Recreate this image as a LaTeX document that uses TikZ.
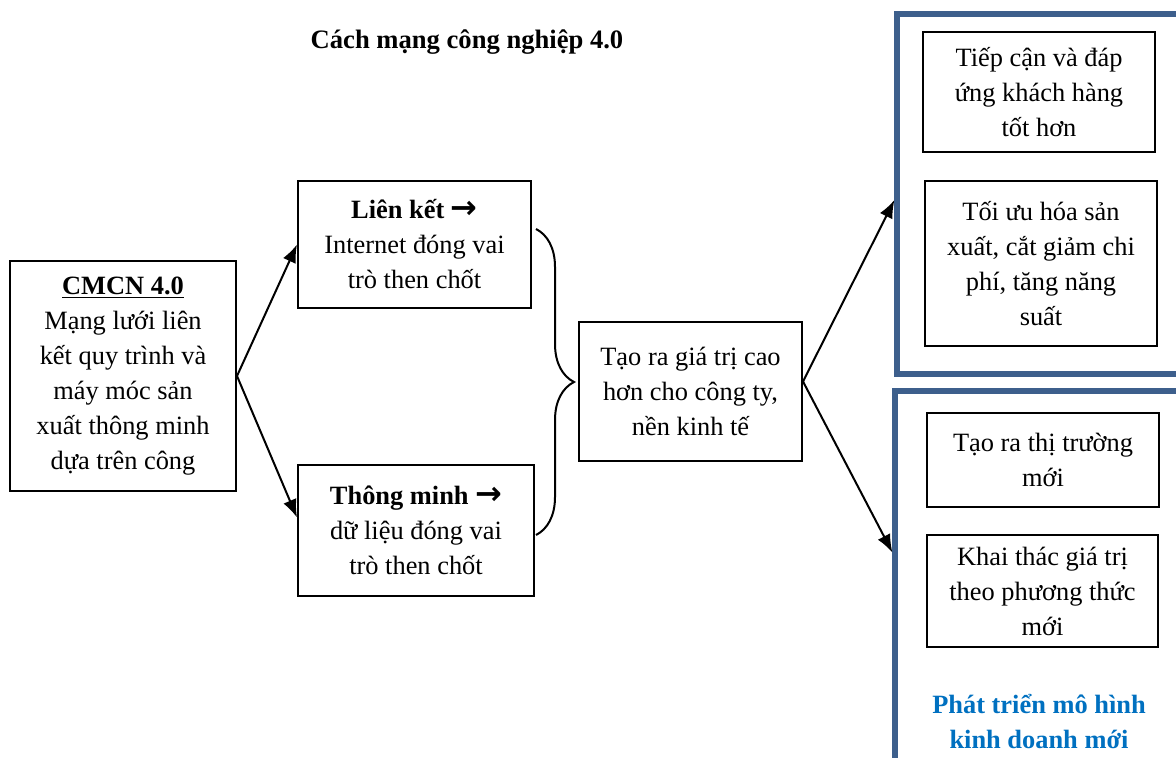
\documentclass[tikz,border=0pt]{standalone}
\usepackage{fontspec}
\setmainfont{Liberation Serif}
\newfontfamily\arrowfont{DejaVu Sans}
\usepackage{xcolor}
\usetikzlibrary{arrows.meta}
\usetikzlibrary{decorations.pathreplacing}
\definecolor{framecol}{HTML}{3D5F8C}
\definecolor{titleblue}{HTML}{0070C0}
\newcommand{\rarr}{{\arrowfont\bfseries\fontsize{16}{17.5}\selectfont →}}
\tikzset{box/.style={draw,line width=1pt,align=center,inner sep=0pt,
   font=\fontsize{13.2}{17.5}\selectfont},
 frame/.style={draw=framecol,line width=2.6pt,inner sep=0pt},
 arr/.style={line width=1pt,-{Latex[length=9pt,width=7pt]}},
 }

\begin{document}
\begin{tikzpicture}[x=0.5pt,y=-0.5pt]
        \useasboundingbox (0,0) rectangle (1176,758);
        \clip (0,0) rectangle (1176,758);
        \node[font=\fontsize{13.3}{15}\selectfont\bfseries] (title) at (467,42) {Cách mạng công nghiệp 4.0};
        % left and middle boxes
        \node[box,minimum width=113pt,minimum height=115pt] (cmcn) at (123,376)
            {\underline{\textbf{CMCN 4.0}}\\Mạng lưới liên\\kết quy trình và\\máy móc sản\\xuất thông minh\\dựa trên công};
        \node[box,minimum width=116.5pt,minimum height=63.5pt] (lienket) at (414.5,244.5)
            {\textbf{Liên kết} \rarr\\Internet đóng vai\\trò then chốt};
        \node[box,minimum width=118pt,minimum height=65.5pt] (thongminh) at (416,530.5)
            {\textbf{Thông minh} \rarr\\dữ liệu đóng vai\\trò then chốt};
        \node[box,minimum width=111.5pt,minimum height=69.5pt] (taora) at (690.5,391.5)
            {Tạo ra giá trị cao\\hơn cho công ty,\\nền kinh tế};
        \coordinate (bA) at (536,229);
        \coordinate (bB) at (536,535);
        \draw[line width=1pt,decorate,decoration={brace,amplitude=19pt}] (bA) -- (bB);
        % right frames
        \node[frame,minimum width=146.5pt,minimum height=180pt] (grpA) at (1043.5,194) {};
        \node[frame,minimum width=147.5pt,minimum height=199.5pt] (grpB) at (1042.5,590.5) {};
        \node[box,minimum width=116pt,minimum height=60pt] (tiepcan) at (1039,92)
            {Tiếp cận và đáp\\ứng khách hàng\\tốt hơn};
        \node[box,minimum width=116pt,minimum height=82.5pt] (toiuu) at (1041,263.5)
            {Tối ưu hóa sản\\xuất, cắt giảm chi\\phí, tăng năng\\suất};
        \node[box,minimum width=116pt,minimum height=47pt] (thitruong) at (1043,460)
            {Tạo ra thị trường\\mới};
        \node[box,minimum width=115.5pt,minimum height=56pt] (khaithac) at (1042.5,591)
            {Khai thác giá trị\\theo phương thức\\mới};
        \node[align=center,text=titleblue,font=\fontsize{13.2}{17.5}\selectfont\bfseries] (mohinh) at (1039,722)
            {Phát triển mô hình\\kinh doanh mới};
        % connectors
        \draw[arr] (cmcn.east) -- (lienket.west);
        \draw[arr] (cmcn.east) -- ([yshift=6.5pt]thongminh.west);
        \draw[arr] ([yshift=5pt]taora.east) -- ([yshift=-3pt]grpA.west);
        \draw[arr] ([yshift=5pt]taora.east) -- ([yshift=19pt]grpB.west);
    \end{tikzpicture}
\end{document}
